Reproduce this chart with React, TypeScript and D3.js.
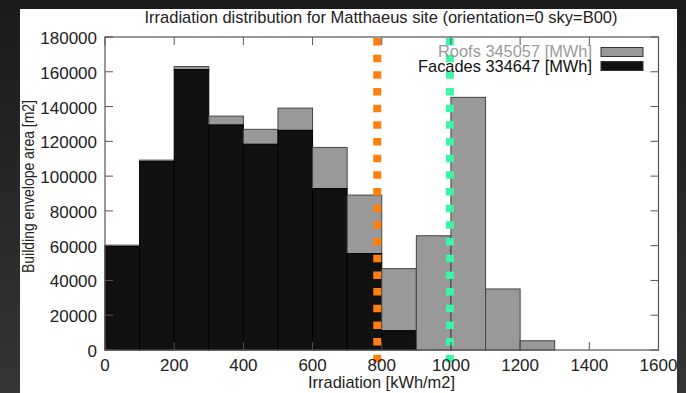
import * as d3 from 'd3'

// histogram bins (kWh/m2), lower edges
const binStarts = [0, 100, 200, 300, 400, 500, 600, 700, 800, 900, 1000, 1100, 1200]
const facades = [59500, 108300, 161200, 129400, 118300, 126300, 92800, 55400, 11100, 0, 0, 0, 0]
const roofs = [800, 900, 1800, 5100, 8600, 12800, 23700, 33700, 35700, 65700, 145300, 35100, 5300]
const binWidth = 100

const xTicks = [0, 200, 400, 600, 800, 1000, 1200, 1400, 1600]
const yTicks = [0, 20000, 40000, 60000, 80000, 100000, 120000, 140000, 160000, 180000]

// vertical marker lines
const markers = [
    { value: 787, color: '#ff7f0e' },
    { value: 997, color: '#3cf5a6' },
]

const legendItems = [
    { label: 'Roofs 345057 [MWh]', fill: '#999999', text: '#9a9a9a', len: 154 },
    { label: 'Facades 334647 [MWh]', fill: '#111111', text: '#111111', len: 174 },
]

const width = 686
const height = 393
const plot = { left: 105, right: 658.5, top: 37, bottom: 350 }
const font = '"Liberation Sans", Arial, sans-serif'
const frameColor = '#555'

export default function App() {
    const x = d3.scaleLinear().domain([0, 1600]).range([plot.left, plot.right])
    const y = d3.scaleLinear().domain([0, 180000]).range([plot.bottom, plot.top])
    const tick = 8

    return (
        <div>
            <style>{`body{margin:0}`}</style>
            <svg width={width} height={height} style={{ display: 'block' }}>
                <defs>
                    <linearGradient id="bg" x1="0" y1="0" x2="0" y2="1">
                        <stop offset="0" stopColor="#1a1a1a" />
                        <stop offset="1" stopColor="#353535" />
                    </linearGradient>
                </defs>
                <rect width={width} height={height} fill="url(#bg)" />
                <rect x={20} y={9} width={657} height={height - 9} fill="#fff" />

                {/* title */}
                <text x={381} y={23} textAnchor="middle" fontFamily={font} fontSize={17}
                    textLength={473} lengthAdjust="spacingAndGlyphs" fill="#222">
                    Irradiation distribution for Matthaeus site (orientation=0 sky=B00)
                </text>

                {/* bars: facades at the bottom, roofs stacked on top */}
                {binStarts.map((b, i) => {
                    const f = facades[i]
                    const r = roofs[i]
                    const x0 = x(b)
                    const w = x(b + binWidth) - x0
                    return (
                        <g key={b}>
                            {r > 0 && (
                                <rect x={x0} y={y(f + r)} width={w} height={y(f) - y(f + r)}
                                    fill="#999" stroke="#444" strokeWidth={1} />
                            )}
                            {f > 0 && (
                                <rect x={x0} y={y(f)} width={w} height={y(0) - y(f)}
                                    fill="#111" stroke="#000" strokeWidth={1} />
                            )}
                        </g>
                    )
                })}

                {/* marker lines */}
                {markers.map((m) => (
                    <line key={m.value} x1={x(m.value)} x2={x(m.value)} y1={38} y2={363}
                        stroke={m.color} strokeWidth={8} strokeDasharray="7.5 9.17" />
                ))}

                {/* frame with mirrored ticks */}
                <rect x={plot.left} y={plot.top} width={plot.right - plot.left}
                    height={plot.bottom - plot.top} fill="none" stroke={frameColor} strokeWidth={1.2} />
                {xTicks.map((t) => (
                    <g key={'x' + t}>
                        <line x1={x(t)} x2={x(t)} y1={plot.bottom} y2={plot.bottom - tick} stroke={frameColor} />
                        <line x1={x(t)} x2={x(t)} y1={plot.top} y2={plot.top + tick} stroke={frameColor} />
                        <text x={x(t)} y={370.5} textAnchor="middle" fontFamily={font} fontSize={17} fill="#222">
                            {t}
                        </text>
                    </g>
                ))}
                {yTicks.map((t) => (
                    <g key={'y' + t}>
                        <line x1={plot.left} x2={plot.left + tick} y1={y(t)} y2={y(t)} stroke={frameColor} />
                        <line x1={plot.right} x2={plot.right - tick} y1={y(t)} y2={y(t)} stroke={frameColor} />
                        <text x={97} y={y(t) + 7} textAnchor="end" fontFamily={font} fontSize={17} fill="#222">
                            {t}
                        </text>
                    </g>
                ))}

                {/* axis labels */}
                <text x={381.5} y={388} textAnchor="middle" fontFamily={font} fontSize={17}
                    textLength={147} lengthAdjust="spacingAndGlyphs" fill="#222">
                    Irradiation [kWh/m2]
                </text>
                <text transform="translate(34,186.5) rotate(-90)" textAnchor="middle" fontFamily={font}
                    fontSize={17} textLength={173} lengthAdjust="spacingAndGlyphs" fill="#222">
                    Building envelope area [m2]
                </text>

                {/* legend */}
                {legendItems.map((item, i) => (
                    <g key={item.label}>
                        <text x={592} y={57 + i * 15} textAnchor="end" fontFamily={font} fontSize={17}
                            textLength={item.len} lengthAdjust="spacingAndGlyphs" fill={item.text}>
                            {item.label}
                        </text>
                        <rect x={601} y={47.5 + i * 14} width={42} height={9}
                            fill={item.fill} stroke="#333" strokeWidth={1} />
                    </g>
                ))}
            </svg>
        </div>
    )
}
